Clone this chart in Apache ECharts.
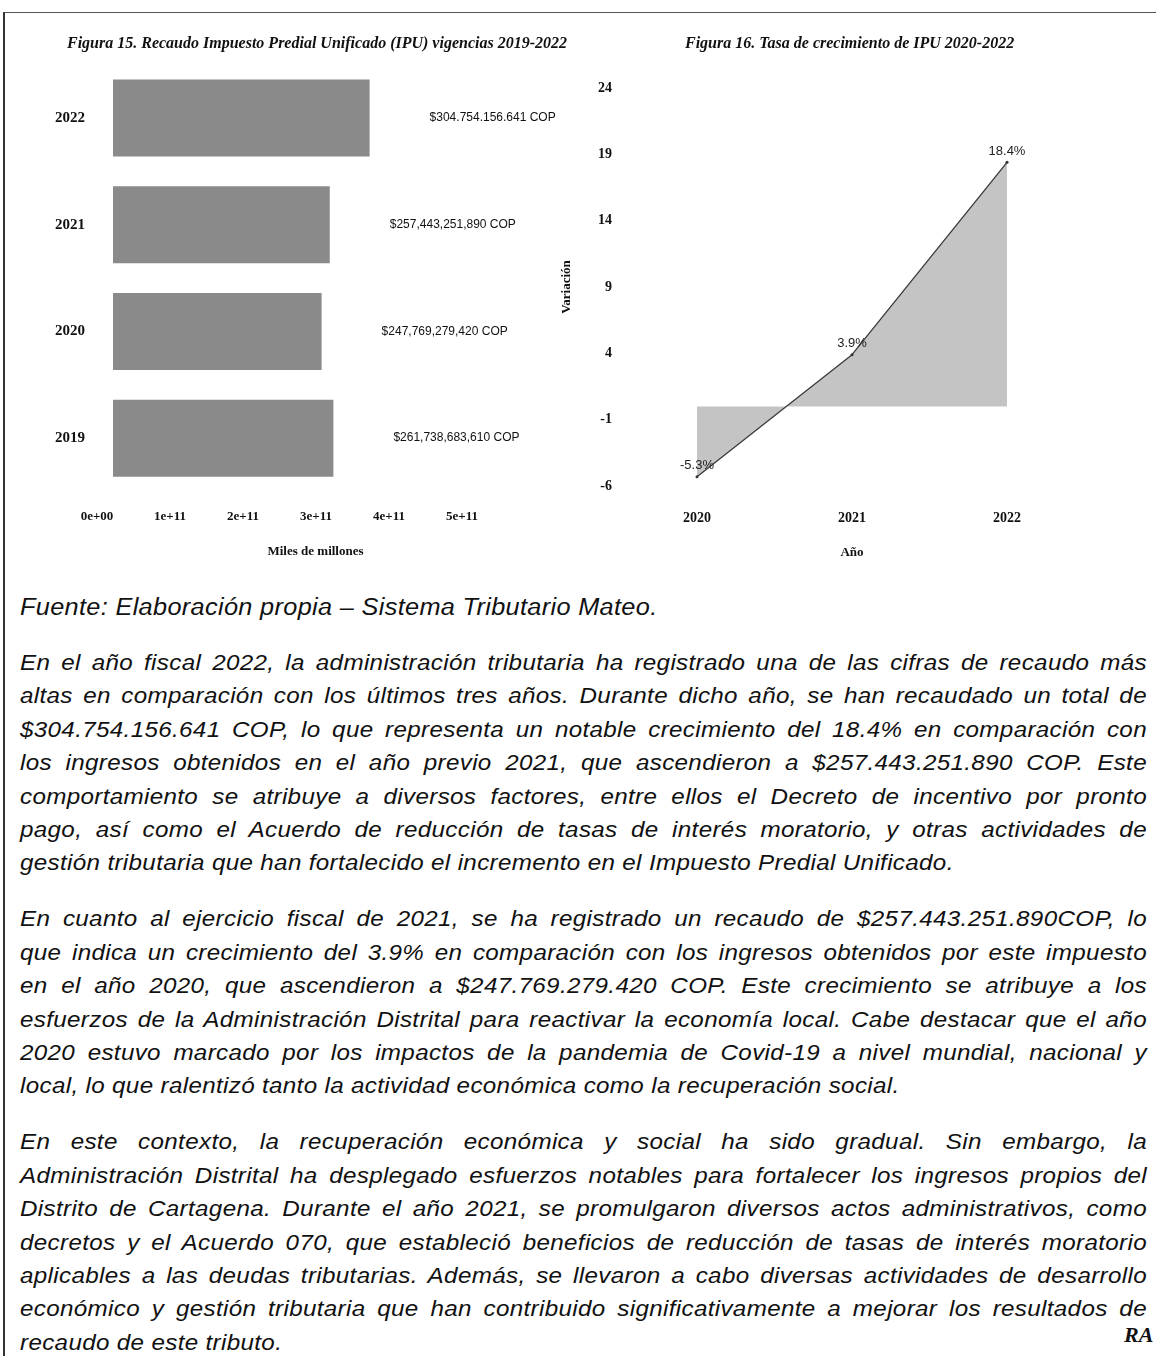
<!DOCTYPE html>
<html><head><meta charset="utf-8">
<script src="https://cdn.jsdelivr.net/npm/echarts@6/dist/echarts.min.js"></script>
<style>
html,body{margin:0;padding:0;background:#fff;}
#page{position:relative;width:1156px;height:1356px;overflow:hidden;background:#fff;}
#frame{position:absolute;left:3px;top:12px;width:1200px;height:1400px;border-left:2px solid #333;border-top:1px solid #555;}
#chart{position:absolute;left:0;top:0;width:1156px;height:580px;}
.ln{position:absolute;left:20px;width:1024.5px;transform:scaleX(1.1);transform-origin:0 0;font-family:"Liberation Sans",Arial,sans-serif;font-style:italic;font-size:22px;letter-spacing:0.3px;color:#111;white-space:nowrap;line-height:26px;height:26px;}
.j{text-align:justify;text-align-last:justify;}
.src{font-size:23px;}
.sig{position:absolute;font-family:"Liberation Serif",serif;font-style:italic;font-weight:bold;color:#111;}
</style></head>
<body><div id="page"><div id="frame"></div><div id="chart"></div><div id="text"></div>
<div class="sig" style="left:1124px;top:1322px;font-size:22px;">RA</div>
</div>
<script>
// ---- data ----
const barYears = ['2019', '2020', '2021', '2022'];
const barValues = [261738683610, 247769279420, 257443251890, 304754156641];
const barLabels = ['$261,738,683,610 COP', '$247,769,279,420 COP', '$257,443,251,890 COP', '$304.754.156.641 COP'];
const xTickValues = [0, 1e11, 2e11, 3e11, 4e11, 5e11];
const xTickLabels = ['0e+00', '1e+11', '2e+11', '3e+11', '4e+11', '5e+11'];
const growthYears = ['2020', '2021', '2022'];
const growthValues = [-5.3, 3.9, 18.4];
const growthTicks = [-6, -1, 4, 9, 14, 19, 24];

const titleLeft = 'Figura 15. Recaudo Impuesto Predial Unificado (IPU) vigencias 2019-2022';
const titleRight = 'Figura 16. Tasa de crecimiento de IPU 2020-2022';
const sourceLine = 'Fuente: Elaboración propia – Sistema Tributario Mateo.';
const para1 = [
 'En el año fiscal 2022, la administración tributaria ha registrado una de las cifras de recaudo más',
 'altas en comparación con los últimos tres años. Durante dicho año, se han recaudado un total de',
 '$304.754.156.641 COP, lo que representa un notable crecimiento del 18.4% en comparación con',
 'los ingresos obtenidos en el año previo 2021, que ascendieron a $257.443.251.890 COP. Este',
 'comportamiento se atribuye a diversos factores, entre ellos el Decreto de incentivo por pronto',
 'pago, así como el Acuerdo de reducción de tasas de interés moratorio, y otras actividades de',
 'gestión tributaria que han fortalecido el incremento en el Impuesto Predial Unificado.'
];
const para2 = [
 'En cuanto al ejercicio fiscal de 2021, se ha registrado un recaudo de $257.443.251.890COP, lo',
 'que indica un crecimiento del 3.9% en comparación con los ingresos obtenidos por este impuesto',
 'en el año 2020, que ascendieron a $247.769.279.420 COP. Este crecimiento se atribuye a los',
 'esfuerzos de la Administración Distrital para reactivar la economía local. Cabe destacar que el año',
 '2020 estuvo marcado por los impactos de la pandemia de Covid-19 a nivel mundial, nacional y',
 'local, lo que ralentizó tanto la actividad económica como la recuperación social.'
];
const para3 = [
 'En este contexto, la recuperación económica y social ha sido gradual. Sin embargo, la',
 'Administración Distrital ha desplegado esfuerzos notables para fortalecer los ingresos propios del',
 'Distrito de Cartagena. Durante el año 2021, se promulgaron diversos actos administrativos, como',
 'decretos y el Acuerdo 070, que estableció beneficios de reducción de tasas de interés moratorio',
 'aplicables a las deudas tributarias. Además, se llevaron a cabo diversas actividades de desarrollo',
 'económico y gestión tributaria que han contribuido significativamente a mejorar los resultados de',
 'recaudo de este tributo.'
];

// ---- text block ----
const textDiv = document.getElementById('text');
function addLine(str, cy, cls) {
  const d = document.createElement('div');
  d.className = 'ln' + (cls ? ' ' + cls : '');
  d.style.top = (cy - 13) + 'px';
  d.textContent = str;
  textDiv.appendChild(d);
}
const L = 33.4, G = 56;
addLine(sourceLine, 607, 'src');
let y = 607 + G;
[para1, para2, para3].forEach((p) => {
  p.forEach((s, i) => {
    addLine(s, y, i < p.length - 1 ? 'j' : '');
    if (i < p.length - 1) y += L;
  });
  y += G;
});

// ---- chart ----
const serif = '"Liberation Serif","Times New Roman",serif';
const sans = '"Liberation Sans",Arial,sans-serif';
const axisTxt = {fontFamily: serif, fontWeight: 'bold', fontSize: 13, color: '#111'};
const catTxt = {fontFamily: serif, fontWeight: 'bold', fontSize: 15, color: '#111'};
const titleTxt = {fontFamily: serif, fontStyle: 'italic', fontWeight: 'bold', fontSize: 16, color: '#111'};
const chart = echarts.init(document.getElementById('chart'), null, {renderer: 'canvas'});
chart.setOption({
  animation: false,
  backgroundColor: 'transparent',
  title: [
    {text: titleLeft, left: 62, top: 31, textStyle: titleTxt},
    {text: titleRight, left: 680, top: 31, textStyle: titleTxt}
  ],
  grid: [
    {left: 97, right: 622, top: 64.5, bottom: 88.5},
    {left: 697, right: 149, top: 88, bottom: 94}
  ],
  xAxis: [
    {gridIndex: 0, type: 'value', position: 'top', min: -1.9e10, max: 5e11, show: false},
    {gridIndex: 0, type: 'value', position: 'bottom', min: 0, max: 5.986e11,
     axisLine: {show: false}, axisTick: {show: false}, splitLine: {show: false},
     axisLabel: Object.assign({customValues: xTickValues, margin: 19,
       formatter: v => { const i = xTickValues.findIndex(t => Math.abs(t - v) < 1); return i >= 0 ? xTickLabels[i] : ''; }}, axisTxt),
     name: 'Miles de millones', nameLocation: 'middle', nameGap: 54, nameTextStyle: axisTxt},
    {gridIndex: 1, type: 'category', data: growthYears, boundaryGap: false,
     axisLine: {show: false}, axisTick: {show: false}, splitLine: {show: false},
     axisLabel: Object.assign({margin: 25}, catTxt, {fontSize: 14}),
     name: 'Año', nameLocation: 'middle', nameGap: 60, nameTextStyle: axisTxt}
  ],
  yAxis: [
    {gridIndex: 0, type: 'category', data: barYears,
     axisLine: {show: false}, axisTick: {show: false}, splitLine: {show: false},
     axisLabel: Object.assign({margin: 12}, catTxt)},
    {gridIndex: 1, type: 'value', min: -6, max: 24,
     axisLine: {show: false}, axisTick: {show: false}, splitLine: {show: false},
     axisLabel: Object.assign({customValues: growthTicks, margin: 85}, axisTxt, {fontSize: 14}),
     name: 'Variación', nameLocation: 'middle', nameGap: 124, nameRotate: 90, nameTextStyle: axisTxt}
  ],
  series: [
    {type: 'bar', xAxisIndex: 0, yAxisIndex: 0, data: barValues, barWidth: 77,
     itemStyle: {color: '#8a8a8a'},
     label: {show: true, position: 'right', distance: 60, formatter: p => barLabels[p.dataIndex],
       fontFamily: sans, fontSize: 12, color: '#111'}},
    {type: 'line', xAxisIndex: 2, yAxisIndex: 1, data: growthValues,
     symbol: 'circle', symbolSize: 3, itemStyle: {color: '#333'},
     lineStyle: {color: '#3a3a3a', width: 1.3},
     areaStyle: {color: '#c4c4c4', opacity: 1},
     label: {show: true, position: 'top', distance: 3, formatter: p => p.value + '%',
       fontFamily: sans, fontSize: 13, color: '#222'}}
  ]
});
</script></body></html>
